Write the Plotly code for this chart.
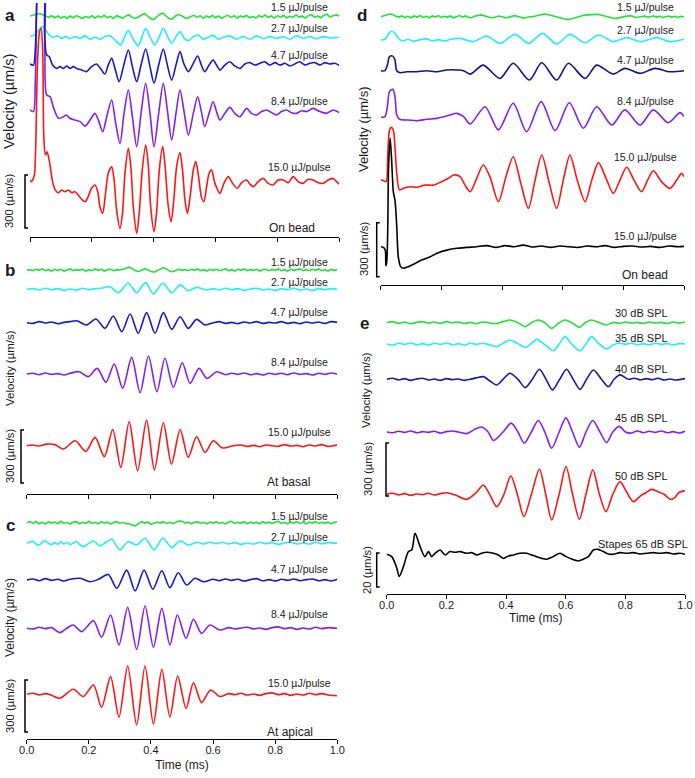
import plotly.graph_objects as go

# ---------------------------------------------------------------- data
# Panel a (On bead), velocity in um/s, time in ms
A_GRN_V = [4, 8, 14, 18, 12, 4, -4, 6, -6, 4,
           -8, 2, -10, 4, -6, 6, -4, -10, 2, -6,
           6, -8, 4, -4, 8, -6, 2, -10, 6, -2,
           -8, 4, 10, -4, -10, -2, 8, 18, 4, -12,
           -16, 2, 14, 20, 4, -12, -14, 4, 12, 6,
           -6, -10, 2, 8, -4, 6, -8, 4, -4, 8,
           -6, 4, -10, 2, 8, -4, 6, -8, 4, -2,
           8, -6, 2, -8, 6, -2, 10, -4, 4, -8,
           6, -4, 8, -6, 2, -4, 10, -2, 4, -8,
           6, 12, -4, 4, -6, 8, 14, -2, 6, 10, 4]
A_CYN_T = [0, 0.011, 0.022, 0.032, 0.043, 0.052, 0.062, 0.075, 0.088, 0.102, 0.116, 0.129, 0.145, 0.162,
           0.178, 0.194, 0.210, 0.226, 0.242, 0.258, 0.275, 0.293, 0.306, 0.318, 0.334, 0.350, 0.362, 0.374,
           0.390, 0.404, 0.418, 0.431, 0.445, 0.458, 0.472, 0.485, 0.499, 0.512, 0.528, 0.544, 0.560, 0.576,
           0.592, 0.609, 0.625, 0.646, 0.668, 0.689, 0.711, 0.732, 0.754, 0.775, 0.797, 0.819, 0.840, 0.862,
           0.883, 0.905, 0.926, 0.948, 0.969, 1.0]
A_CYN_V = [4, 11, 26, 51, 60, 38, 13, 0, 8, -6, 4, -8, 4, -6, 8, -11, 0, -11, 4, 8, -15, -43, 4, 38, -11,
           -49, 4, 51, -6, -43, 4, 51, 4, -34, 4, 32, -6, -19, 4, 13, -11, 0, 11, -11, 0, 8, -11, 4, -11, 8,
           -8, 4, -6, 4, -11, 8, -6, 4, -8, 4, -4, 0]
A_BLU_T = [0, 0.011, 0.017, 0.022, 0.027, 0.043, 0.047, 0.054, 0.062, 0.073, 0.086, 0.097, 0.108, 0.118,
           0.129, 0.140, 0.151, 0.167, 0.183, 0.199, 0.215, 0.228, 0.242, 0.253, 0.264, 0.276, 0.288, 0.302,
           0.318, 0.331, 0.345, 0.359, 0.374, 0.388, 0.401, 0.416, 0.431, 0.444, 0.458, 0.472, 0.485, 0.497,
           0.512, 0.528, 0.542, 0.554, 0.565, 0.579, 0.592, 0.603, 0.614, 0.630, 0.646, 0.662, 0.679, 0.695,
           0.711, 0.727, 0.743, 0.759, 0.775, 0.792, 0.808, 0.824, 0.840, 0.856, 0.872, 0.889, 0.905, 0.921,
           0.937, 0.953, 0.969, 0.985, 1.0]
A_BLU_V = [0, -6, 79, 362, 551, 551, 174, 51, 42, -6, -25, -15, -25, -11, -25, -15, -25, -34, -43, -15, 0,
           -25, -57, -6, 32, -34, -100, -15, 79, -15, -100, -6, 85, -15, -109, -6, 85, -6, -91, -6, 70, 4,
           -43, 4, 45, -6, -43, -6, 23, -6, -34, -6, 13, -11, -25, 0, 8, -6, 4, 13, -6, 8, -6, 4, -11, 0, 13,
           -6, 4, 8, -6, 8, 0, 4, -8]
A_PUR_T = [0, 0.011, 0.017, 0.022, 0.027, 0.043, 0.048, 0.054, 0.065, 0.075, 0.092, 0.108, 0.118, 0.129,
           0.145, 0.162, 0.178, 0.194, 0.210, 0.221, 0.235, 0.248, 0.264, 0.277, 0.291, 0.304, 0.318, 0.331,
           0.345, 0.359, 0.374, 0.388, 0.401, 0.416, 0.431, 0.444, 0.458, 0.472, 0.485, 0.499, 0.512, 0.528,
           0.542, 0.554, 0.565, 0.579, 0.592, 0.603, 0.614, 0.630, 0.646, 0.662, 0.679, 0.700, 0.716, 0.732,
           0.749, 0.765, 0.781, 0.797, 0.813, 0.829, 0.845, 0.862, 0.878, 0.894, 0.915, 0.937, 0.959, 0.980, 1.0]
A_PUR_V = [0, -9, 151, 623, 811, 811, 340, 85, 75, 19, -47, -38, -28, -47, -57, -66, -91, -57, -19, -57,
           -123, -38, 57, -75, -189, -19, 113, -38, -208, -19, 151, -19, -208, -19, 151, 0, -170, -19, 113,
           -19, -142, -19, 75, -9, -94, -19, 47, -9, -57, -19, 15, -19, -38, 9, -19, -28, -9, 0, -15, -28, -9,
           0, -15, -19, -4, -9, 9, -9, -19, 0, -15]
A_RED_T = [0, 0.005, 0.011, 0.015, 0.024, 0.030, 0.036, 0.041, 0.045, 0.050, 0.055, 0.062, 0.073, 0.082,
           0.092, 0.102, 0.113, 0.124, 0.135, 0.145, 0.156, 0.167, 0.178, 0.188, 0.199, 0.210, 0.219, 0.226,
           0.235, 0.243, 0.253, 0.264, 0.272, 0.280, 0.291, 0.299, 0.307, 0.318, 0.326, 0.334, 0.345, 0.353,
           0.363, 0.374, 0.382, 0.390, 0.401, 0.409, 0.418, 0.429, 0.437, 0.446, 0.456, 0.465, 0.474, 0.485,
           0.493, 0.501, 0.509, 0.519, 0.528, 0.536, 0.545, 0.554, 0.562, 0.571, 0.579, 0.587, 0.598, 0.614,
           0.627, 0.641, 0.655, 0.670, 0.684, 0.700, 0.711, 0.722, 0.738, 0.754, 0.770, 0.786, 0.802, 0.819,
           0.835, 0.851, 0.867, 0.883, 0.899, 0.915, 0.932, 0.948, 0.964, 0.980, 0.991, 1.0]
A_RED_V = [0, -9, 9, 38, 642, 830, 859, 736, 226, 142, 160, 113, -9, -57, -72, -57, -66, -57, -72, -66, -85,
           -109, -123, -94, -47, -28, -66, -151, -189, -94, 38, 75, 0, -170, -274, -189, 38, 179, 75, -151,
           -302, -189, 57, 198, 94, -151, -292, -189, 57, 189, 75, -132, -236, -113, 75, 155, 57, -113, -189,
           -75, 57, 104, 19, -94, -123, -38, 38, 57, -19, -75, -19, 19, -19, -47, -15, 0, -23, -38, -9, 9,
           -19, -28, 0, 0, -15, 19, -9, -19, 4, 0, -15, -19, 0, 9, -9, -23]

# Panel b (At basal)
B_GRN_V = [0, 2, -4, 4, -2, 6, -4, 2, -6, 4,
           -2, 4, -6, 2, 6, -4, 2, -2, 4, -6,
           2, -4, 6, -2, 4, -6, 2, 4, -4, 2,
           0, 4, 10, 16, 8, -4, -8, 0, 6, 2,
           -8, -12, -4, 6, 14, 6, -6, -10, -2, 4,
           -2, 2, -4, 4, -2, 6, -4, 2, -6, 4,
           -2, 4, -4, 2, 6, -4, 2, -6, 4, -2,
           6, -4, 2, -2, 4, -6, 2, 4, -4, 2,
           -2, 6, -4, 2, -6, 4, -2, 2, 6, -4,
           2, -4, 4, -2, 6, -4, 2, -6, 4, -2, 2]
B_CYN_T = [0, 0.02, 0.04, 0.06, 0.08, 0.10, 0.12, 0.14, 0.16, 0.18, 0.20, 0.22, 0.24, 0.268, 0.295, 0.327,
           0.354, 0.383, 0.408, 0.438, 0.467, 0.494, 0.52, 0.547, 0.579, 0.60, 0.62, 0.64, 0.66, 0.68, 0.70,
           0.72, 0.74, 0.76, 0.78, 0.80, 0.82, 0.84, 0.86, 0.88, 0.90, 0.92, 0.94, 0.96, 0.98, 1.0]
B_CYN_V = [0, 4, -4, 6, -2, 4, -6, 2, -4, 6, -2, 4, 6, 15, -19, 34, -19, 38, -26, 34, -19, 25, -8, 11, -4, 4,
           -4, 6, -2, 4, -6, 2, 6, -4, 2, -6, 4, -2, 6, -4, 2, -6, 4, -2, 4, 0]
B_BLU_T = [0, 0.02, 0.04, 0.06, 0.08, 0.10, 0.12, 0.14, 0.161, 0.193, 0.223, 0.252, 0.279, 0.306, 0.333,
           0.359, 0.386, 0.413, 0.44, 0.467, 0.494, 0.52, 0.547, 0.574, 0.601, 0.62, 0.64, 0.66, 0.68, 0.70,
           0.72, 0.74, 0.76, 0.78, 0.80, 0.82, 0.84, 0.86, 0.88, 0.90, 0.92, 0.94, 0.96, 0.98, 1.0]
B_BLU_V = [0, -4, 6, -2, 4, -6, 2, 6, 11, -13, 21, -32, 38, -51, 49, -60, 57, -60, 57, -38, 34, -32, 19, -13,
           0, 6, -4, 2, -6, 4, -2, 6, -4, 2, -2, 6, -4, 2, -6, 4, -2, 4, -4, 6, 2]
B_PUR_T = [0, 0.02, 0.04, 0.06, 0.08, 0.10, 0.12, 0.14, 0.169, 0.198, 0.227, 0.255, 0.282, 0.309, 0.338,
           0.365, 0.392, 0.419, 0.445, 0.472, 0.501, 0.526, 0.555, 0.58, 0.612, 0.64, 0.66, 0.68, 0.70, 0.72,
           0.74, 0.76, 0.78, 0.80, 0.82, 0.84, 0.86, 0.88, 0.90, 0.92, 0.94, 0.96, 0.98, 1.0]
B_PUR_V = [0, 4, -4, 6, -2, 2, -6, 4, 13, -15, 32, -47, 57, -81, 94, -106, 102, -100, 89, -75, 64, -53, 32,
           -25, 13, -4, 4, -2, 6, -4, 2, -6, 4, -2, 4, -4, 6, -2, 2, -6, 4, -2, 6, -2]
B_RED_T = [0, 0.02, 0.04, 0.064, 0.091, 0.118, 0.156, 0.19, 0.22, 0.25, 0.277, 0.303, 0.33, 0.357, 0.386,
           0.411, 0.44, 0.466, 0.494, 0.52, 0.547, 0.574, 0.601, 0.63, 0.665, 0.69, 0.71, 0.73, 0.75, 0.77,
           0.79, 0.81, 0.83, 0.85, 0.87, 0.89, 0.91, 0.93, 0.95, 0.97, 1.0]
B_RED_V = [0, 4, -2, 9, 6, -19, 28, -32, 47, -62, 92, -123, 136, -142, 145, -138, 130, -104, 92, -66, 51,
           -38, 28, -13, 0, 4, -4, 2, -6, 4, 0, -4, 6, -2, 2, -6, 4, -2, 6, -4, 4]

# Panel c (At apical)
C_GRN_V = [0, 6, -4, 8, -6, 2, -8, 6, -2, 4,
           -6, 8, -4, 2, -8, 4, 6, -6, 2, -4,
           8, -4, 2, -6, 6, -2, 4, -8, 2, 6,
           -4, 2, -6, -6, -14, -18, -4, 6, -2, 4,
           -10, -4, 4, -2, 6, -4, 2, -6, 4, 10,
           8, -2, 4, -6, 2, 6, -4, 2, -6, 4,
           -2, 6, -4, 2, -6, 4, 8, -4, 2, -2,
           6, -6, 4, -2, 2, -6, 6, -2, 4, -4,
           2, 8, -4, 2, -6, 4, -2, 6, -4, 2,
           -6, 4, -2, 6, -4, 2, -2, 4, -6, 2, 4]
C_CYN_T = [0, 0.01, 0.02, 0.03, 0.04, 0.05, 0.06, 0.07, 0.08, 0.09, 0.10, 0.11, 0.12, 0.13, 0.14, 0.15,
           0.16, 0.17, 0.182, 0.20, 0.215, 0.236, 0.255, 0.274, 0.30, 0.327, 0.354, 0.381, 0.41, 0.438, 0.467,
           0.494, 0.52, 0.55, 0.57, 0.59, 0.61, 0.63, 0.65, 0.67, 0.69, 0.71, 0.73, 0.75, 0.77, 0.79, 0.81,
           0.83, 0.85, 0.87, 0.89, 0.91, 0.93, 0.95, 0.97, 1.0]
C_CYN_V = [0, 8, 12, -4, -10, 6, 14, 0, -8, 4, -6, 8, -4, 6, -8, 2, 10, -6, -19, 0, 13, -15, 6, 23, -38, 10,
           -10, 29, -38, 29, -25, 15, -10, 6, -4, 6, -2, 6, -4, 4, -6, 2, -4, 6, -2, 4, -6, 2, 6, -4, 2, -4,
           6, -2, 4, 0]
C_BLU_T = [0, 0.02, 0.04, 0.06, 0.08, 0.10, 0.12, 0.14, 0.172, 0.204, 0.231, 0.263, 0.29, 0.322, 0.349,
           0.378, 0.406, 0.435, 0.461, 0.488, 0.515, 0.542, 0.569, 0.60, 0.62, 0.64, 0.66, 0.68, 0.70, 0.72,
           0.74, 0.76, 0.78, 0.80, 0.82, 0.84, 0.86, 0.88, 0.90, 0.92, 0.94, 0.96, 0.98, 1.0]
C_BLU_V = [0, 6, -4, 8, -2, 4, -6, 4, 10, -10, 4, 32, -48, 57, -63, 57, -53, 53, -44, 42, -29, 10, -10, 4,
           -4, 6, -2, 4, -6, 2, 8, -4, 2, -6, 4, -2, 6, -4, 2, 6, -4, 2, -6, 4]
C_PUR_T = [0, 0.02, 0.04, 0.06, 0.08, 0.107, 0.129, 0.15, 0.177, 0.215, 0.241, 0.27, 0.297, 0.325, 0.354,
           0.381, 0.408, 0.435, 0.461, 0.485, 0.513, 0.537, 0.563, 0.59, 0.622, 0.65, 0.67, 0.69, 0.71, 0.73,
           0.75, 0.77, 0.79, 0.81, 0.83, 0.85, 0.87, 0.89, 0.91, 0.93, 0.95, 0.97, 1.0]
C_PUR_V = [0, -4, 6, -2, 4, -25, 0, 19, -19, 44, -52, 77, -96, 121, -121, 129, -109, 115, -96, 77, -58, 52,
           -29, 19, -10, 4, -4, 2, 6, -4, 2, -6, 4, 8, -2, 4, -6, 2, -4, 6, -2, 4, 0]
C_RED_T = [0, 0.02, 0.04, 0.06, 0.08, 0.107, 0.15, 0.182, 0.215, 0.241, 0.27, 0.297, 0.325, 0.354, 0.381,
           0.408, 0.435, 0.461, 0.486, 0.513, 0.537, 0.563, 0.592, 0.622, 0.65, 0.67, 0.69, 0.71, 0.73, 0.75,
           0.77, 0.79, 0.81, 0.83, 0.85, 0.87, 0.89, 0.91, 0.93, 0.95, 0.97, 1.0]
C_RED_V = [0, 6, -4, 4, -6, -23, 29, -13, 54, -75, 102, -132, 163, -177, 163, -171, 144, -132, 106, -81, 67,
           -48, 25, -13, 4, -2, 6, -4, 2, -6, 4, 8, -2, 4, -6, 2, -4, 6, -2, 4, -4, -8]

# Panel d (On bead, second cochlea)
D_GRN_V = [0, 4, 10, 15, 12, 2, -2, 4, -4, 2,
           -6, 4, -2, 6, -4, 2, -6, 4, -2, 6,
           -4, 2, -2, 4, -6, 2, 6, -2, 4, -4,
           -6, 2, 6, 10, 6, 0, -4, -6, -2, 4,
           0, -6, -4, 2, 6, 2, -4, -8, -6, 0,
           0, 4, 8, 12, 15, 12, 8, 2, -4, -8,
           -12, -14, -15, -10, -4, 2, 6, 8, 10, 12,
           12, 13, 12, 8, 2, -4, -8, -10, -8, -4,
           0, 4, 6, 2, -4, -2, 2, 4, -2, 2,
           4, -2, 2, -4, 2, 4, -2, 2, -4, 2, 0]
D_CYN_T = [0, 0.014, 0.029, 0.036, 0.047, 0.062, 0.075, 0.09, 0.11, 0.13, 0.15, 0.17, 0.19, 0.21, 0.23,
           0.262, 0.305, 0.349, 0.393, 0.443, 0.487, 0.534, 0.58, 0.624, 0.674, 0.718, 0.767, 0.811, 0.855,
           0.91, 0.954, 1.0]
D_CYN_V = [0, 4, 41, 50, 37, 4, -4, 4, -6, 2, 6, -4, 2, -6, 4, 9, -9, 22, -19, 31, -19, 37, -22, 31, -15,
           28, -9, 13, -9, 13, -9, 4]
D_BLU_T = [0, 0.014, 0.022, 0.029, 0.040, 0.047, 0.053, 0.064, 0.086, 0.119, 0.152, 0.185, 0.218, 0.251,
           0.273, 0.295, 0.338, 0.393, 0.437, 0.49, 0.531, 0.58, 0.619, 0.674, 0.712, 0.767, 0.805, 0.855,
           0.904, 0.954, 1.0]
D_BLU_V = [0, 0, 31, 78, 81, 59, 0, -11, -6, -6, 0, -6, 4, 4, 0, -19, 31, -43, 41, -52, 44, -52, 41, -43,
           31, -19, 13, -15, 13, -6, 0]
D_PUR_T = [0, 0.014, 0.022, 0.029, 0.040, 0.047, 0.053, 0.062, 0.091, 0.119, 0.152, 0.185, 0.229, 0.251,
           0.273, 0.295, 0.344, 0.388, 0.437, 0.481, 0.529, 0.575, 0.622, 0.668, 0.712, 0.762, 0.805, 0.855,
           0.899, 0.948, 0.987, 1.0]
D_PUR_V = [0, 4, 59, 143, 156, 115, 13, -11, -15, -19, -11, -6, 13, 22, 4, -37, 59, -70, 78, -80, 87, -74,
           81, -61, 59, -43, 41, -43, 41, -30, 26, 4]
D_RED_T = [0, 0.009, 0.018, 0.023, 0.029, 0.035, 0.042, 0.047, 0.053, 0.062, 0.075, 0.097, 0.119, 0.146,
           0.174, 0.201, 0.223, 0.240, 0.262, 0.278, 0.295, 0.314, 0.338, 0.360, 0.388, 0.413, 0.437, 0.462,
           0.487, 0.509, 0.531, 0.556, 0.580, 0.602, 0.624, 0.648, 0.674, 0.696, 0.718, 0.743, 0.767, 0.789,
           0.811, 0.835, 0.860, 0.880, 0.899, 0.926, 0.954, 0.976, 0.992, 1.0]
D_RED_V = [9, 6, 0, 139, 287, 302, 283, 194, 46, -46, -37, -28, -31, -19, -19, 0, 19, 37, 28, -19, -56, 9,
           93, 28, -111, 28, 139, -9, -148, 9, 148, -9, -148, 9, 148, 9, -111, 9, 106, 19, -65, 9, 80, 9, -56,
           9, 61, 0, -37, 9, 46, 28]
D_BLK_T = [0, 0.009, 0.015, 0.017, 0.020, 0.023, 0.026, 0.031, 0.036, 0.042, 0.047, 0.053, 0.058, 0.066,
           0.075, 0.091, 0.113, 0.135, 0.163, 0.190, 0.218, 0.251, 0.284, 0.316, 0.35, 0.38, 0.41, 0.44, 0.47,
           0.50, 0.53, 0.56, 0.59, 0.62, 0.65, 0.68, 0.71, 0.74, 0.77, 0.80, 0.83, 0.86, 0.89, 0.92, 0.95,
           0.98, 1.0]
D_BLK_V = [0, -4, -19, -106, -80, 74, 444, 603, 481, 300, 259, 111, -56, -111, -120, -111, -93, -74, -56,
           -33, -19, -9, -4, 0, 6, -4, 6, 0, 9, -2, 4, -4, 4, 0, -4, 4, 0, 6, -4, 2, 4, -2, 2, -4, 4, 0, 2]

# Panel e (sound stimulation, dB SPL)
E_GRN_T = [0, 0.02, 0.04, 0.06, 0.08, 0.10, 0.12, 0.14, 0.16, 0.18, 0.20, 0.22, 0.24, 0.26, 0.28, 0.30,
           0.32, 0.34, 0.369, 0.39, 0.413, 0.44, 0.464, 0.485, 0.508, 0.53, 0.553, 0.575, 0.598, 0.62, 0.648,
           0.665, 0.687, 0.71, 0.737, 0.76, 0.78, 0.80, 0.82, 0.84, 0.86, 0.88, 0.90, 0.92, 0.94, 0.96, 0.98,
           1.0]
E_GRN_V = [0, 6, -4, 4, -6, 2, 6, -2, 4, -4, 6, 0, 4, -4, 2, -6, 4, 0, -4, 6, 15, 0, -23, 0, 15, 0, -32, -4,
           15, 0, -26, 0, 15, 2, -13, 2, -4, 4, -2, 2, -4, 4, -2, 2, -4, 4, -2, 4]
E_CYN_T = [0, 0.02, 0.04, 0.06, 0.08, 0.10, 0.12, 0.14, 0.16, 0.18, 0.20, 0.22, 0.24, 0.26, 0.28, 0.30,
           0.32, 0.34, 0.369, 0.39, 0.413, 0.44, 0.464, 0.485, 0.503, 0.53, 0.559, 0.578, 0.598, 0.62, 0.648,
           0.668, 0.687, 0.71, 0.737, 0.76, 0.782, 0.80, 0.82, 0.84, 0.86, 0.88, 0.90, 0.92, 0.94, 0.96, 0.98,
           1.0]
E_CYN_V = [0, -6, 4, -2, 6, -4, 2, -6, 4, -2, 6, -4, 2, -6, 4, -2, 4, -2, -15, 4, 23, 2, -19, 4, 26, -4,
           -38, 0, 42, 0, -38, 0, 42, 4, -28, -4, 4, -2, 4, -4, 2, -4, 4, -2, 2, -4, 2, 0]
E_BLU_T = [0, 0.02, 0.04, 0.06, 0.08, 0.10, 0.12, 0.14, 0.16, 0.18, 0.20, 0.22, 0.24, 0.26, 0.28, 0.30,
           0.324, 0.345, 0.369, 0.39, 0.413, 0.44, 0.464, 0.488, 0.512, 0.534, 0.556, 0.58, 0.603, 0.625,
           0.648, 0.67, 0.693, 0.72, 0.743, 0.762, 0.782, 0.81, 0.83, 0.85, 0.87, 0.89, 0.91, 0.93, 0.95,
           0.97, 1.0]
E_BLU_V = [0, 6, -4, 4, -6, 2, 6, -4, 2, -6, 4, -2, 2, -6, 0, 8, 15, -8, -32, 0, 34, 0, -47, 0, 57, 0, -60,
           0, 57, 0, -57, 0, 53, 0, -42, 0, 25, 0, 6, -4, 4, -2, 6, -4, 2, -4, 4]
E_PUR_T = [0, 0.02, 0.04, 0.06, 0.08, 0.10, 0.12, 0.14, 0.16, 0.18, 0.20, 0.22, 0.24, 0.268, 0.295, 0.318,
           0.34, 0.358, 0.39, 0.417, 0.44, 0.461, 0.485, 0.508, 0.53, 0.553, 0.578, 0.601, 0.623, 0.646,
           0.668, 0.691, 0.715, 0.737, 0.758, 0.78, 0.80, 0.82, 0.84, 0.86, 0.88, 0.90, 0.92, 0.94, 0.96,
           0.98, 1.0]
E_PUR_V = [0, -4, 4, -2, 6, -4, 2, -2, 4, -6, 2, 6, 0, -9, 15, 28, 0, -48, 0, 50, 0, -64, 0, 65, 0, -92, 0,
           80, 0, -86, 0, 65, 0, -60, 0, 32, 0, -6, 6, -4, 4, -2, 6, -4, 2, -6, 4]
E_RED_T = [0, 0.02, 0.04, 0.06, 0.08, 0.10, 0.12, 0.14, 0.16, 0.18, 0.201, 0.23, 0.268, 0.30, 0.324, 0.345,
           0.369, 0.393, 0.416, 0.438, 0.46, 0.485, 0.512, 0.533, 0.553, 0.578, 0.601, 0.623, 0.646, 0.668,
           0.691, 0.713, 0.735, 0.758, 0.782, 0.805, 0.827, 0.85, 0.87, 0.888, 0.91, 0.93, 0.95, 0.965, 0.98,
           1.0]
E_RED_V = [0, 6, -4, 4, -6, 2, -2, 6, -4, 4, 9, -4, -28, 10, 53, 0, -70, 0, 104, 0, -126, 0, 142, 0, -145, 0,
           157, 0, -142, 0, 138, 0, -98, 0, 72, 10, -42, -10, 10, 28, 15, 0, -28, -20, 10, 21]
E_STP_T = [0, 0.017, 0.034, 0.042, 0.056, 0.073, 0.084, 0.095, 0.112, 0.128, 0.140, 0.151, 0.162, 0.179,
           0.196, 0.212, 0.229, 0.246, 0.268, 0.285, 0.302, 0.318, 0.335, 0.358, 0.374, 0.391, 0.408, 0.425,
           0.447, 0.469, 0.486, 0.503, 0.520, 0.536, 0.553, 0.581, 0.598, 0.615, 0.642, 0.659, 0.676, 0.693,
           0.709, 0.726, 0.743, 0.760, 0.782, 0.804, 0.827, 0.849, 0.872, 0.894, 0.916, 0.939, 0.961, 0.983,
           1.0]
E_STP_V = [0, -1.4, -8.2, -13.1, -7.3, 1.6, 2.5, 12.3, 4.5, -1.4, 1.6, -1.4, 0.6, 2.5, -0.4, 1.6, 1.2, 1.6,
           0.6, 1.0, -0.4, 0.6, 1.2, 0.6, -0.4, -2.4, -1.0, -0.4, 0.6, 0.6, -0.4, -1.4, -2.4, -2.9, -1.8, 0.6,
           -1.0, -2.4, -3.9, -2.9, -1.4, 2.5, 2.9, 1.6, 0.2, 0.0, 1.0, 0.6, 1.0, 0.2, 0.6, 1.0, 0.6, 1.0, 0.2,
           0.6, 0.0]

PULSE_LABELS = ["1.5 µJ/pulse", "2.7 µJ/pulse", "4.7 µJ/pulse", "8.4 µJ/pulse", "15.0 µJ/pulse"]
SPL_LABELS = ["30 dB SPL", "35 dB SPL", "40 dB SPL", "45 dB SPL", "50 dB SPL", "Stapes 65 dB SPL"]
TICK_VALS = [0, 0.2, 0.4, 0.6, 0.8, 1.0]
TICK_TEXT = ["0.0", "0.2", "0.4", "0.6", "0.8", "1.0"]
SCALE_MAIN = 300   # um/s
SCALE_STAPES = 20  # um/s

# ---------------------------------------------------------------- styling / layout
W, H = 695, 778
FONT = "Liberation Sans, Arial, sans-serif"
TXT = "#1a1a1a"
GREEN, CYAN, PURPLE, RED = "#20E238", "#1EEEFF", "#8020F0", "#FF1414"
BLUE_ABC, BLUE_D, BLUE_E = "#1818C8", "#12128E", "#1A1A98"
LW = 1.6


def fx(p):
    return p / W


def fy(p):
    return 1 - p / H


# x0, x1, top, bottom (px), um/s per px
GEOM = {
    "a": (30.0, 339.3, 3, 237, 300 / 53),
    "b": (26.7, 337.3, 252, 494, 300 / 53),
    "c": (26.7, 337.3, 505, 739, 300 / 52),
    "d": (380.7, 684.0, 3, 285, 300 / 54),
    "e": (386.7, 685.0, 298, 594, 300 / 53),
}
STAPES_K = 20 / 34
AX = {"a": ("x", "y"), "b": ("x2", "y2"), "c": ("x3", "y3"), "d": ("x4", "y4"), "e": ("x5", "y5")}

fig = go.Figure()


def offset(panel, base_py, k=None):
    x0, x1, top, bottom, kk = GEOM[panel]
    return (bottom - base_py) * (k if k else kk)


def add_line(panel, t, v, base_py, color, yaxis=None, k=None, shape="spline"):
    xa, ya = AX[panel]
    off = offset(panel, base_py, k)
    fig.add_trace(go.Scatter(x=t, y=[val + off for val in v], mode="lines", xaxis=xa,
                             yaxis=yaxis or ya, line=dict(color=color, width=LW, shape=shape,
                                                          smoothing=0.8),
                             hoverinfo="skip", showlegend=False))


def add_grid_line(panel, v, base_py, color):
    xa, ya = AX[panel]
    off = offset(panel, base_py)
    fig.add_trace(go.Scatter(x0=0, dx=0.01, y=[val + off for val in v], mode="lines", xaxis=xa,
                             yaxis=ya, line=dict(color=color, width=LW),
                             hoverinfo="skip", showlegend=False))


# panel a
add_grid_line("a", A_GRN_V, 16.7, GREEN)
add_line("a", A_CYN_T, A_CYN_V, 37.3, CYAN)
add_line("a", A_PUR_T, A_PUR_V, 110, PURPLE)
add_line("a", A_BLU_T, A_BLU_V, 64, BLUE_ABC)
add_line("a", A_RED_T, A_RED_V, 180, RED)
# panel b
add_grid_line("b", B_GRN_V, 270, GREEN)
add_line("b", B_CYN_T, B_CYN_V, 289.3, CYAN)
add_line("b", B_BLU_T, B_BLU_V, 322.7, BLUE_ABC)
add_line("b", B_PUR_T, B_PUR_V, 374, PURPLE)
add_line("b", B_RED_T, B_RED_V, 445.7, RED)
# panel c
add_grid_line("c", C_GRN_V, 522.7, GREEN)
add_line("c", C_CYN_T, C_CYN_V, 543.3, CYAN)
add_line("c", C_BLU_T, C_BLU_V, 580, BLUE_ABC)
add_line("c", C_PUR_T, C_PUR_V, 628.3, PURPLE)
add_line("c", C_RED_T, C_RED_V, 694.3, RED)
# panel d
add_grid_line("d", D_GRN_V, 16.7, GREEN)
add_line("d", D_CYN_T, D_CYN_V, 40, CYAN)
add_line("d", D_BLU_T, D_BLU_V, 70.7, BLUE_D)
add_line("d", D_PUR_T, D_PUR_V, 117.3, PURPLE)
add_line("d", D_RED_T, D_RED_V, 181.7, RED)
add_line("d", D_BLK_T, D_BLK_V, 246.7, "black")
# panel e
add_line("e", E_GRN_T, E_GRN_V, 322.7, GREEN)
add_line("e", E_CYN_T, E_CYN_V, 344, CYAN)
add_line("e", E_BLU_T, E_BLU_V, 379.3, BLUE_E)
add_line("e", E_PUR_T, E_PUR_V, 432, PURPLE)
add_line("e", E_RED_T, E_RED_V, 494.3, RED)
add_line("e", E_STP_T, E_STP_V, 554.3, "black", yaxis="y6", k=STAPES_K)

layout = dict(width=W, height=H, margin=dict(l=0, r=0, t=0, b=0, pad=0, autoexpand=False),
              paper_bgcolor="white", plot_bgcolor="white", showlegend=False,
              font=dict(family=FONT, color=TXT))

for i, p in enumerate("abcde"):
    x0, x1, top, bottom, k = GEOM[p]
    xa, ya = AX[p]
    xname = "xaxis" if i == 0 else f"xaxis{i + 1}"
    yname = "yaxis" if i == 0 else f"yaxis{i + 1}"
    xd = dict(domain=[fx(x0), fx(x1)], range=[0, 1], anchor=ya, showline=True, linecolor="black",
              linewidth=1, ticks="outside", ticklen=4, tickwidth=1, tickcolor="black",
              tickvals=TICK_VALS, ticktext=TICK_TEXT, showticklabels=p in "ce", showgrid=False,
              zeroline=False, tickfont=dict(size=11, family=FONT, color=TXT), fixedrange=True,
              automargin=False)
    if p in "ce":
        xd["title"] = dict(text="Time (ms)", font=dict(size=12, family=FONT, color=TXT),
                           standoff=5 if p == "c" else 2)
        xd["ticklabelstandoff"] = -3
    layout[xname] = xd
    layout[yname] = dict(domain=[fy(bottom), fy(top)], range=[0, (bottom - top) * k], visible=False,
                         anchor=xa, fixedrange=True, automargin=False)

layout["yaxis6"] = dict(overlaying="y5", anchor="x5", range=[0, (594 - 298) * STAPES_K], visible=False,
                        automargin=False)

# scale bars: (panel, x px, bottom px, yref, amount, k)
shapes = []
BARS = [("a", 25.0, 228, "y", SCALE_MAIN, None), ("b", 21.0, 483, "y2", SCALE_MAIN, None),
        ("c", 25.0, 732, "y3", SCALE_MAIN, None), ("d", 376.7, 276.7, "y4", SCALE_MAIN, None),
        ("e", 386.0, 496, "y5", SCALE_MAIN, None), ("e", 376.7, 587, "y6", SCALE_STAPES, STAPES_K)]
for p, bx, bbot, yref, amt, kk in BARS:
    y0 = offset(p, bbot, kk)
    y1 = y0 + amt
    xa, xb = fx(bx), fx(bx + 3)
    shapes.append(dict(type="path", xref="paper", yref=yref,
                       path=f"M {xb},{y0} L {xa},{y0} L {xa},{y1} L {xb},{y1}",
                       line=dict(color="black", width=1.5)))
layout["shapes"] = shapes

ann = []


def text(x, y, s, size=10.5, angle=0, bold=False, anchor="center"):
    ann.append(dict(x=fx(x), y=fy(y), xref="paper", yref="paper", text=f"<b>{s}</b>" if bold else s,
                    showarrow=False, xanchor=anchor, yanchor="middle", textangle=angle,
                    font=dict(size=size, family=FONT, color=TXT)))


# curve labels
for lbl, yy in zip(PULSE_LABELS, [7.3, 28.3, 55, 101, 166.7]):
    text(299, yy, lbl)
for lbl, yy in zip(PULSE_LABELS, [261.7, 282.3, 312.3, 362.3, 432.3]):
    text(299, yy, lbl)
for lbl, yy in zip(PULSE_LABELS, [516, 537.3, 569, 614.3, 682.7]):
    text(299, yy, lbl)
for lbl, yy in zip(PULSE_LABELS + [PULSE_LABELS[-1]], [6.7, 30, 60, 101, 156.7, 236]):
    text(645, yy, lbl)
for lbl, yy, xx in zip(SPL_LABELS, [313.3, 338.3, 369, 418.3, 476, 544],
                       [641.7, 641.7, 641.7, 641.7, 641.7, 643.3]):
    text(xx, yy, lbl, size=11)
text(292.3, 227.7, "On bead", size=12)
text(288, 481.7, "At basal", size=12)
text(290, 731.7, "At apical", size=12)
text(645, 275, "On bead", size=12)

# panel letters
for s, xx, yy in [("a", 10, 15), ("b", 10, 270), ("c", 10, 525), ("d", 362, 15), ("e", 365, 323.3)]:
    text(xx, yy, s, size=17, bold=True)

# y labels
for xx, yy, sz in [(9, 102, 14.5), (10, 368, 11.5), (10, 618, 12), (363, 129, 13), (366, 390, 11.5)]:
    text(xx, yy, "Velocity (µm/s)", size=sz, angle=-90)
for xx, yy in [(9, 201), (10, 456), (10, 706), (364, 249), (368, 469)]:
    text(xx, yy, "300 (µm/s)", size=11.3, angle=-90)
text(367, 570, "20 (µm/s)", size=11.3, angle=-90)

layout["annotations"] = ann
fig.update_layout(**layout)
fig.write_html("out.html", config={"displayModeBar": False, "staticPlot": True},
               post_script="document.body.style.margin='0';document.body.style.padding='0';")
